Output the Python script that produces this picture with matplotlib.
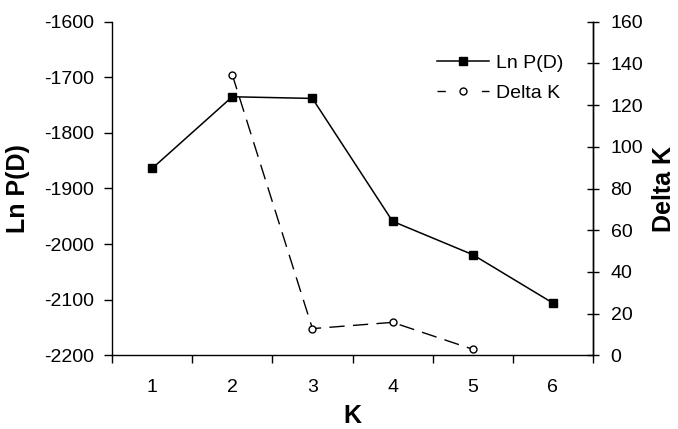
import matplotlib
matplotlib.use('Agg')
import matplotlib.pyplot as plt
from matplotlib.lines import Line2D

# Data
k_values = [1, 2, 3, 4, 5, 6]
ln_pd = [-1864, -1735, -1738, -1959, -2019, -2106]
delta_k_k = [2, 3, 4, 5]
delta_k = [134.6, 12.8, 15.8, 2.9]

plt.rcParams['font.family'] = ['Liberation Sans', 'DejaVu Sans']
plt.rcParams['axes.unicode_minus'] = False

W, H = 678, 429
fig = plt.figure(figsize=(W / 100, H / 100), dpi=100)
# axes box measured in pixels: x 112..593, y 21.7..355.3
ax = fig.add_axes([112 / W, 1 - 355.3 / H, 481 / W, 333.6 / H])
ax2 = ax.twinx()

ax.plot(k_values, ln_pd, color='black', lw=1.1, marker='s', ms=6.3,
        mfc='black', mec='black', zorder=3)
ax2.plot(delta_k_k, delta_k, color='black', lw=1.0, ls=(0, (11, 6)),
         marker='o', ms=5.0, mfc='white', mec='black', mew=1.0, zorder=3)

ax.set_xlim(0.5, 6.5)
ax.set_ylim(-2200, -1600)
ax2.set_ylim(0, 160)

# category axis: ticks between categories, labels centred on them
ax.set_xticks([0.5 + i for i in range(7)])
ax.set_xticklabels([])
ax.set_xticks(k_values, minor=True)
ax.set_xticklabels([str(k) for k in k_values], minor=True)
ax.tick_params(axis='x', which='major', direction='out', length=5.5, width=1)
ax.tick_params(axis='x', which='minor', length=0, pad=17, labelsize=14)

ax.set_yticks(range(-2200, -1599, 100))
ax.tick_params(axis='y', direction='out', length=5.8, width=1, labelsize=14, pad=7)
ax2.set_yticks(range(0, 161, 20))
ax2.tick_params(axis='y', direction='inout', length=8, width=1, labelsize=14, pad=8.6)

for a in (ax, ax2):
    a.spines['top'].set_visible(False)
    for s in ('left', 'right', 'bottom'):
        a.spines[s].set_linewidth(1)
ax2.spines['left'].set_visible(False)
ax2.spines['bottom'].set_visible(False)

ax.set_xlabel('K', fontsize=18, fontweight='bold', labelpad=5.5)
ax.set_ylabel('Ln P(D)', fontsize=18, fontweight='bold', labelpad=10)
ax2.set_ylabel('Delta K', fontsize=18, fontweight='bold', labelpad=6)

handles = [
    Line2D([], [], color='black', lw=1.1, marker='s', ms=6.3, mfc='black'),
    Line2D([], [], color='black', lw=1.0, ls=(0, (6, 26)), marker='o', ms=5.0,
           mfc='white', mec='black'),
]
fig.legend(handles, ['Ln P(D)', 'Delta K'], loc='upper left',
           bbox_to_anchor=(437 / W, 1 - 54 / H), frameon=False, fontsize=14,
           handlelength=2.68, handletextpad=0.35, labelspacing=0.65,
           borderpad=0, borderaxespad=0)

fig.savefig('out.png', dpi=100)
